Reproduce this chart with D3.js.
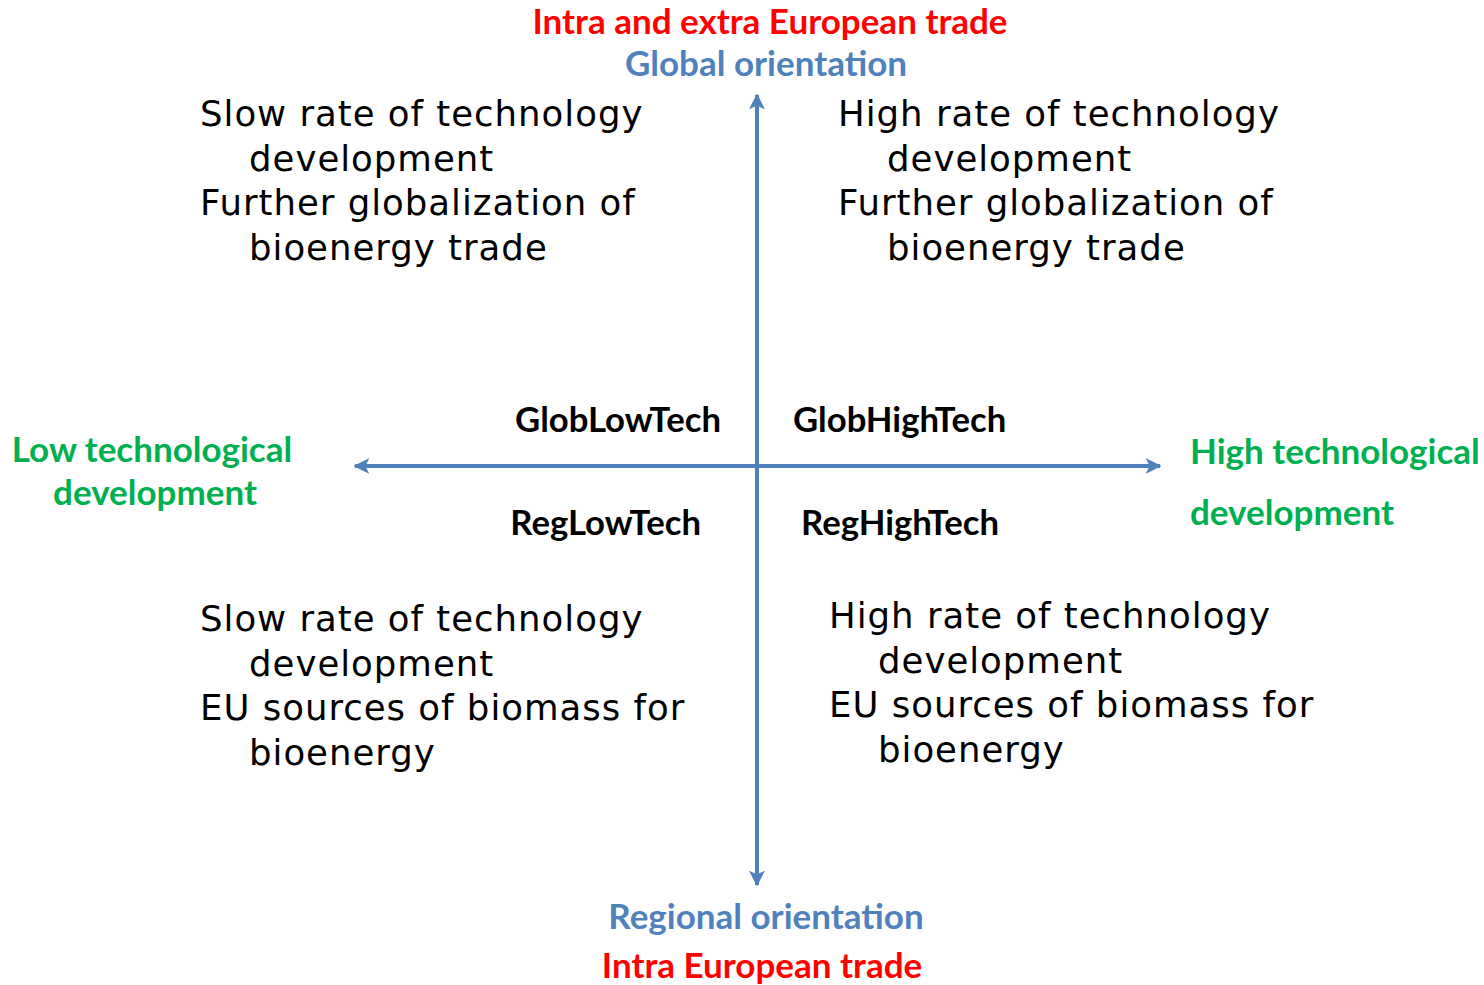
<!DOCTYPE html>
<html>

<head>
    <meta charset="utf-8">
    <style>
        body { margin: 0; background: white; }
        .desc { font-family: "DejaVu Sans", Verdana, sans-serif; font-size: 35.5px; letter-spacing: 1px; fill: black; }
        .bold { font-family: Lato, Calibri, sans-serif; font-weight: bold; }
    </style>
</head>

<body>
    <svg width="1484" height="985"></svg>
</body>

<script src="https://d3js.org/d3.v7.min.js"></script>

<script>
    let quadNames = ["GlobLowTech", "GlobHighTech", "RegLowTech", "RegHighTech"]
    let quadDesc = [
        ["Slow rate of technology", "development", "Further globalization of", "bioenergy trade"],
        ["High rate of technology", "development", "Further globalization of", "bioenergy trade"],
        ["Slow rate of technology", "development", "EU sources of biomass for", "bioenergy"],
        ["High rate of technology", "development", "EU sources of biomass for", "bioenergy"]
    ]
    let topLabels = ["Intra and extra European trade", "Global orientation"]
    let bottomLabels = ["Regional orientation", "Intra European trade"]
    let leftLabels = ["Low technological", "development"]
    let rightLabels = ["High technological", "development"]

    let width = 1484
    let height = 985
    let svg = d3.select("svg")

    let blue = "#4F81BD"
    let red = "#FF0000"
    let green = "#00B050"

    // axis space: -1..1 both directions
    let x = d3.scaleLinear().domain([-1, 1]).range([355, 1160])
    let y = d3.scaleLinear().domain([-1, 1]).range([95, 885])
    let cx = 757, cy = 466

    svg.append("defs").append("marker")
        .attr("id", "head")
        .attr("viewBox", "0 0 10 10")
        .attr("refX", 9)
        .attr("refY", 5)
        .attr("markerWidth", 4)
        .attr("markerHeight", 4)
        .attr("markerUnits", "strokeWidth")
        .attr("orient", "auto")
        .append("path")
        .attr("d", "M0,0 L10,5 L0,10 L2.5,5 Z")
        .style("fill", blue)

    let arrows = [
        [cx, cy, x(-1), cy],
        [cx, cy, x(1), cy],
        [cx, cy, cx, y(-1)],
        [cx, cy, cx, y(1)]
    ]

    svg.selectAll(".arrow")
        .data(arrows)
        .join("line")
        .attr("class", "arrow")
        .attr("x1", d => d[0])
        .attr("y1", d => d[1])
        .attr("x2", d => d[2])
        .attr("y2", d => d[3])
        .style("stroke", blue)
        .style("stroke-width", 4)
        .attr("marker-end", "url(#head)")

    // quadrant names
    let namePos = [
        { x: 721, y: 432, anchor: "end" },
        { x: 793, y: 432, anchor: "start" },
        { x: 701, y: 535, anchor: "end" },
        { x: 801, y: 535, anchor: "start" }
    ]
    svg.selectAll(".qname")
        .data(quadNames)
        .join("text")
        .attr("class", "qname bold")
        .attr("x", (d, i) => namePos[i].x)
        .attr("y", (d, i) => namePos[i].y)
        .attr("text-anchor", (d, i) => namePos[i].anchor)
        .style("font-size", "34.7px")
        .text(d => d)

    // quadrant descriptions
    let descPos = [
        { x: 200, y: 126 },
        { x: 838, y: 126 },
        { x: 200, y: 631 },
        { x: 829, y: 628 }
    ]
    let lineGap = 44.7
    let indent = 49
    quadDesc.forEach((lines, i) => {
        svg.selectAll(".desc-" + i)
            .data(lines)
            .join("text")
            .attr("class", "desc desc-" + i)
            .attr("x", (d, j) => descPos[i].x + (j % 2 == 1 ? indent : 0))
            .attr("y", (d, j) => descPos[i].y + j * lineGap)
            .text(d => d)
    })

    function label(lines, xs, ys, colors, anchor, size) {
        svg.append("g").selectAll("text")
            .data(lines)
            .join("text")
            .attr("class", "bold")
            .attr("x", (d, i) => xs[i])
            .attr("y", (d, i) => ys[i])
            .attr("text-anchor", anchor)
            .style("fill", (d, i) => colors[i])
            .style("font-size", size + "px")
            .text(d => d)
    }

    label(topLabels, [770, 766], [34, 76], [red, blue], "middle", 35)
    label(bottomLabels, [766, 762], [929, 978], [blue, red], "middle", 35)
    label(leftLabels, [152, 155], [462, 505], [green, green], "middle", 35)
    label(rightLabels, [1190, 1190], [464, 525], [green, green], "start", 35)

</script>
</html>
